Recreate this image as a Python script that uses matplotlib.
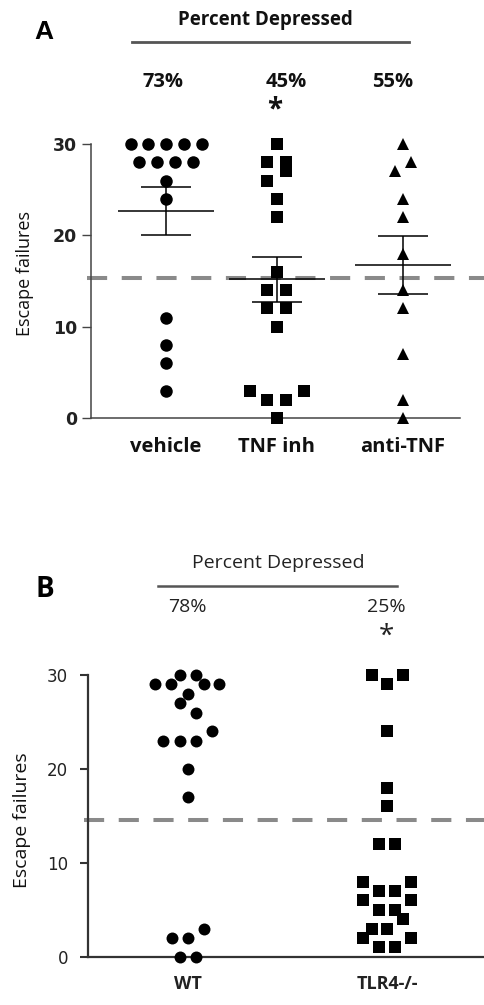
import numpy as np
import matplotlib
matplotlib.use('Agg')
import matplotlib.pyplot as plt
from matplotlib.lines import Line2D

# ---------------- data ----------------
# Panel A
groups_a = ['vehicle', 'TNF inh', 'anti-TNF']
vehicle = [30, 30, 30, 30, 30, 28, 28, 28, 28, 26, 24, 11, 8, 6, 3]
tnf_inh = [30, 28, 28, 27, 26, 24, 22, 16, 14, 14, 12, 12, 10, 3, 3, 2, 2, 0]
anti_tnf = [30, 28, 27, 24, 22, 18, 14, 12, 7, 2, 0]
pct_a = ['73%', '45%', '55%']
sig_a = ['', '*', '']
threshold_a = 15.3

# Panel B
groups_b = ['WT', 'TLR4-/-']
wt = [30, 30, 29, 29, 29, 29, 28, 27, 26, 24, 23, 23, 23, 20, 17, 3, 2, 2, 0, 0]
tlr4 = [30, 30, 29, 24, 18, 16, 12, 12, 8, 8, 7, 7, 6, 6, 5, 5, 4, 3, 3, 2, 2, 1, 1]
pct_b = ['78%', '25%']
sig_b = ['', '*']
threshold_b = 14.6

yticks = [0, 10, 20, 30]
title_text = 'Percent Depressed'
ylabel_text = 'Escape failures'

# ---------------- layout (positions / jitter) ----------------
W, H = 484, 1005
pos_a = [0.0, 1.0, 2.135]
vehicle_dx = [-0.32, -0.16, 0, 0.16, 0.32, -0.24, -0.08, 0.08, 0.24, 0, 0, 0, 0, 0, 0]
tnf_dx = [0, -0.09, 0.08, 0.08, -0.09, 0, 0, 0, -0.09, 0.08, -0.09, 0.08, 0, -0.24, 0.24, -0.09, 0.08, 0]
anti_dx = [0, 0.07, -0.07, 0, 0, 0, 0, 0, 0, 0, 0]

pos_b = [0.0, 1.0]
wt_dx = [-0.04, 0.04, -0.166, -0.085, 0.08, 0.156, 0, -0.04, 0.04, 0.12,
         -0.125, -0.04, 0.04, 0, 0, 0.08, -0.082, 0, -0.04, 0.04]
tlr4_dx = [-0.077, 0.082, 0, 0, 0, 0, -0.039, 0.04, -0.119, 0.12, -0.039, 0.04,
           -0.119, 0.12, -0.039, 0.04, 0.082, -0.077, 0, -0.119, 0.12, -0.039, 0.04]

plt.rcParams['lines.scale_dashes'] = False

fig = plt.figure(figsize=(W / 100, H / 100), dpi=100)


def fx(x):
    return x / W


def fy(y):
    return 1 - y / H


def rect(l, t, r, b):
    return [fx(l), fy(b), (r - l) / W, (b - t) / H]


SANS = 'Open Sans'
DASH_COLOR = '#8a8a8a'

# ---------------- Panel A ----------------
axA = fig.add_axes(rect(91, 144, 460, 418))
axA.set_xlim(-0.676, 2.649)
axA.set_ylim(0, 30)
data_a = [vehicle, tnf_inh, anti_tnf]
dx_a = [vehicle_dx, tnf_dx, anti_dx]
markers_a = ['o', 's', '^']
msizes_a = [9.0, 8.0, 8.6]
for i, (vals, dxs, mk, ms) in enumerate(zip(data_a, dx_a, markers_a, msizes_a)):
    xs = [pos_a[i] + d for d in dxs]
    axA.plot(xs, vals, linestyle='none', marker=mk, ms=ms, color='black',
             markeredgewidth=0, clip_on=False, zorder=3)
    v = np.array(vals, dtype=float)
    m = v.mean()
    sem = v.std(ddof=1) / np.sqrt(len(v))
    axA.hlines(m, pos_a[i] - 0.43, pos_a[i] + 0.43, color='black', lw=1.1, zorder=4)
    axA.hlines([m - sem, m + sem], pos_a[i] - 0.225, pos_a[i] + 0.225, color='black', lw=1.1, zorder=4)
    axA.vlines(pos_a[i], m - sem, m + sem, color='black', lw=1.1, zorder=4)

axA.plot([-0.011, 1.065], [threshold_a, threshold_a], transform=axA.get_yaxis_transform(),
         color=DASH_COLOR, lw=2.9, dashes=(14.5, 10.5), clip_on=False, zorder=2)

for s in ['top', 'right']:
    axA.spines[s].set_visible(False)
axA.spines['left'].set_bounds(0, 30)
for s in ['left', 'bottom']:
    axA.spines[s].set_color('#444444')
    axA.spines[s].set_linewidth(1.1)
axA.set_yticks(yticks)
axA.set_yticklabels([str(t) for t in yticks], fontfamily='DejaVu Sans', fontweight='bold',
                    fontsize=12.5, color='#222222')
axA.tick_params(axis='y', length=6.5, width=1.0, color='#444444', pad=3.5)
axA.set_xticks(pos_a)
axA.set_xticklabels(groups_a, fontfamily=SANS, fontweight='bold', fontsize=14.5, color='#111111')
axA.tick_params(axis='x', length=0, pad=14)
fig.text(fx(25), fy(273), ylabel_text, rotation=90, ha='center', va='center',
         fontfamily=SANS, fontsize=13, color='#111111')

fig.text(fx(44), fy(32), 'A', ha='center', va='center', fontfamily='Liberation Sans',
         fontweight='bold', fontsize=19, color='black')
fig.text(fx(265), fy(20), title_text, ha='center', va='center', fontfamily=SANS,
         fontweight='bold', fontsize=13.5, color='#111111')
fig.add_artist(Line2D([fx(132), fx(409)], [fy(42), fy(42)], color='#555555', lw=2.0))
pct_x_a = [163, 286, 393]
for x, t, s in zip(pct_x_a, pct_a, sig_a):
    fig.text(fx(x), fy(82), t, ha='center', va='center', fontfamily=SANS,
             fontweight='bold', fontsize=14.5, color='#111111')
    if s:
        fig.text(fx(x - 11), fy(110), s, ha='center', va='center', fontfamily=SANS,
                 fontweight='bold', fontsize=20, color='#111111')

# ---------------- Panel B ----------------
axB = fig.add_axes(rect(88, 675, 484, 956.7))
axB.set_xlim(-0.5025, 1.487)
axB.set_ylim(0, 30)
data_b = [wt, tlr4]
dx_b = [wt_dx, tlr4_dx]
markers_b = ['o', 's']
msizes_b = [8.6, 8.6]
for i, (vals, dxs, mk, ms) in enumerate(zip(data_b, dx_b, markers_b, msizes_b)):
    xs = [pos_b[i] + d for d in dxs]
    axB.plot(xs, vals, linestyle='none', marker=mk, ms=ms, color='black',
             markeredgewidth=0, clip_on=False, zorder=3)

axB.plot([-0.01, 1.0], [threshold_b, threshold_b], transform=axB.get_yaxis_transform(),
         color=DASH_COLOR, lw=2.9, dashes=(14.5, 10.5), clip_on=False, zorder=2)

for s in ['top', 'right']:
    axB.spines[s].set_visible(False)
axB.spines['left'].set_bounds(0, 30)
for s in ['left', 'bottom']:
    axB.spines[s].set_color('#333333')
    axB.spines[s].set_linewidth(1.6)
axB.set_yticks(yticks)
axB.set_yticklabels([str(t) for t in yticks], fontfamily='DejaVu Sans', fontsize=12,
                    color='#222222')
axB.tick_params(axis='y', length=5.8, width=1.5, color='#333333', pad=8.4)
axB.set_xticks(pos_b)
axB.set_xticklabels(groups_b, fontfamily=SANS, fontweight='bold', fontsize=13, color='#222222')
axB.tick_params(axis='x', length=0, pad=13)
fig.text(fx(22), fy(820), ylabel_text, rotation=90, ha='center', va='center',
         fontfamily=SANS, fontsize=14, color='#111111')

fig.text(fx(45), fy(589), 'B', ha='center', va='center', fontfamily=SANS,
         fontweight='bold', fontsize=20, color='black')
fig.text(fx(278), fy(563), title_text, ha='center', va='center', fontfamily=SANS,
         fontsize=14, color='#222222')
fig.add_artist(Line2D([fx(158), fx(397)], [fy(585.5), fy(585.5)], color='#555555', lw=1.8))
pct_x_b = [187, 386]
for x, t, s in zip(pct_x_b, pct_b, sig_b):
    fig.text(fx(x), fy(607), t, ha='center', va='center', fontfamily=SANS,
             fontsize=14, color='#222222')
    if s:
        fig.text(fx(x), fy(637), s, ha='center', va='center', fontfamily=SANS,
                 fontsize=20, color='#222222')

fig.savefig('out.png', dpi=100)
